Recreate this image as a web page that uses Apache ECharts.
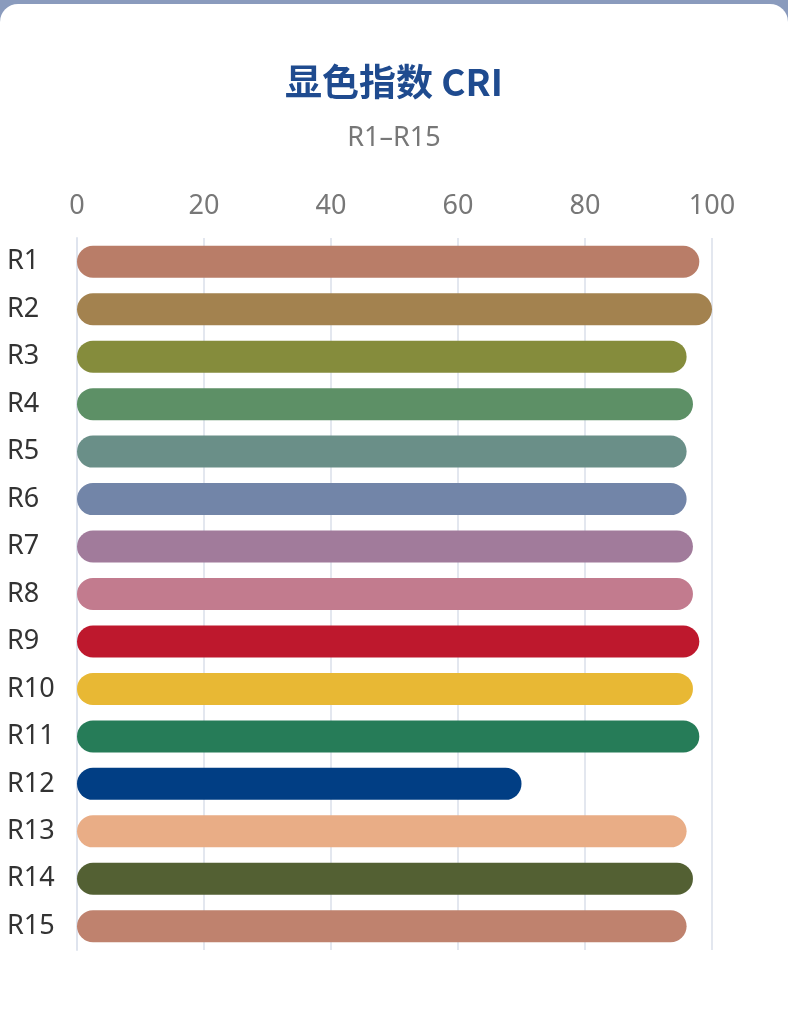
<!DOCTYPE html>
<html>
<head>
<meta charset="utf-8">
<script src="https://cdn.jsdelivr.net/npm/echarts@6/dist/echarts.min.js"></script>
<style>
html, body { margin:0; padding:0; width:788px; height:1024px; background:#8a9bbd; overflow:hidden; }
#card { position:absolute; left:0; top:4px; width:788px; height:1020px; background:#fff; border-radius:18px 18px 0 0; }
#chart { width:788px; height:1020px; }
</style>
</head>
<body>
<div id="card"><div id="chart"></div></div>
<script>
// 显色指数数据
var categories = ['R1','R2','R3','R4','R5','R6','R7','R8','R9','R10','R11','R12','R13','R14','R15'];
var values = [98, 100, 96, 97, 96, 96, 97, 97, 98, 97, 98, 70, 96, 97, 96];
var barColors = ['#b97d68','#a3824f','#858c3c','#5d9066','#6a8f88','#7285a8','#a17b9b','#c27b8e',
                 '#be182d','#e8b834','#267c58','#013e84','#e9ad86','#536033','#bf826e'];

var Chart = echarts.init(document.getElementById('chart'));

var option = {
    backgroundColor:'transparent',
    title:{
        text:'显色指数 CRI',
        subtext:'R1–R15',
        left:'center',
        top:54,
        itemGap:25,
        textStyle:{
            fontSize:37,
            fontWeight:'bold',
            color:'#1f4b8f',
            fontFamily:'Noto Sans CJK SC'
        },
        subtextStyle:{
            fontSize:27,
            color:'#777',
            fontFamily:'Noto Sans'
        }
    },
    grid:{
        left:77,
        right:76,
        top:234,
        bottom:74
    },
    xAxis:{
        type:'value',
        position:'top',
        min:0,
        max:100,
        interval:20,
        axisLine:{show:false},
        axisTick:{show:false},
        axisLabel:{
            fontSize:27,
            color:'#777',
            margin:18,
            fontFamily:'Noto Sans'
        },
        splitLine:{
            lineStyle:{color:'#e3e7ef', width:2}
        }
    },
    yAxis:{
        type:'category',
        inverse:true,
        data:categories,
        axisLine:{lineStyle:{color:'#dfe4ee', width:2}},
        axisTick:{show:false},
        axisLabel:{
            align:'left',
            margin:70,
            fontSize:27,
            color:'#333',
            fontFamily:'Noto Sans'
        }
    },
    series:[
        {
            type:'bar',
            barWidth:32,
            data:values.map(function (v, i) {
                return {
                    value:v,
                    itemStyle:{color:barColors[i], borderRadius:16}
                };
            })
        }
    ]
};
Chart.setOption(option);
</script>
</body>
</html>
